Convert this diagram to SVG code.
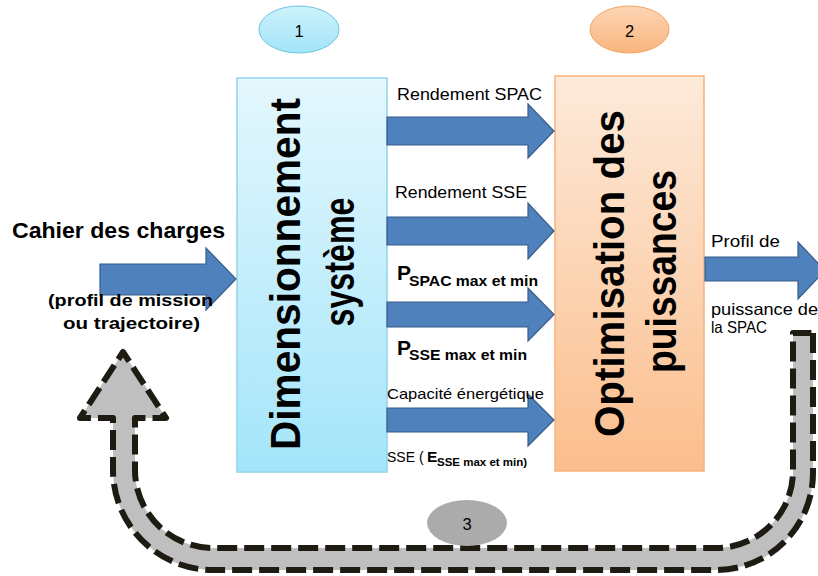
<svg xmlns="http://www.w3.org/2000/svg" width="818" height="576" viewBox="0 0 818 576">
  <defs>
    <linearGradient id="gBlue" x1="0" y1="0" x2="0" y2="1">
      <stop offset="0" stop-color="#E4F7FD"/>
      <stop offset="1" stop-color="#A4E5FA"/>
    </linearGradient>
    <linearGradient id="gOrange" x1="0" y1="0" x2="0" y2="1">
      <stop offset="0" stop-color="#FDEADA"/>
      <stop offset="1" stop-color="#FBBE8D"/>
    </linearGradient>
    <linearGradient id="gEllBlue" x1="0" y1="0" x2="0" y2="1">
      <stop offset="0" stop-color="#CDF2FC"/>
      <stop offset="1" stop-color="#A3E4F8"/>
    </linearGradient>
    <linearGradient id="gEllOrange" x1="0" y1="0" x2="0" y2="1">
      <stop offset="0" stop-color="#FDD6B6"/>
      <stop offset="1" stop-color="#F9B47D"/>
    </linearGradient>
  </defs>
  <style>
    text { font-family: "Liberation Sans", Arial, sans-serif; fill: #000; }
    .big { font-size: 42px; font-weight: bold; }
    .lbl { font-size: 16.5px; }
    .bold { font-weight: bold; }
    .num { font-size: 16.5px; text-anchor: middle; }
    .arrow { fill: #4F81BD; stroke: #385D8A; stroke-width: 1.2; }
    .loop { fill: #BFBFBF; stroke: #1E1B12; stroke-width: 6; stroke-dasharray: 20 7; stroke-linejoin: round; }
  </style>
  <rect width="818" height="576" fill="#FFFFFF"/>

  <g id="node-1-label">
    <ellipse cx="299" cy="29.5" rx="40" ry="23.5" fill="url(#gEllBlue)" stroke="#6CC4DF" stroke-width="1"/>
    <text class="num" x="299" y="37">1</text>
  </g>
  <g id="node-2-label">
    <ellipse cx="629.5" cy="29.5" rx="39.5" ry="23.5" fill="url(#gEllOrange)" stroke="#F2A35E" stroke-width="1"/>
    <text class="num" x="629.5" y="37">2</text>
  </g>

  <g id="node-dimensionnement">
    <rect x="237" y="78" width="150" height="394" fill="url(#gBlue)" stroke="#92D4EA" stroke-width="1.5"/>
    <text class="big" transform="translate(300,274) rotate(-90)" text-anchor="middle" textLength="352" lengthAdjust="spacingAndGlyphs">Dimensionnement</text>
    <text class="big" transform="translate(354,262) rotate(-90)" text-anchor="middle" textLength="129" lengthAdjust="spacingAndGlyphs">système</text>
  </g>

  <g id="node-optimisation">
    <rect x="555" y="76" width="149" height="395" fill="url(#gOrange)" stroke="#F9B27A" stroke-width="1.5"/>
    <text class="big" transform="translate(624,273.5) rotate(-90)" text-anchor="middle" textLength="327" lengthAdjust="spacingAndGlyphs">Optimisation des</text>
    <text class="big" transform="translate(676,271.5) rotate(-90)" text-anchor="middle" textLength="203" lengthAdjust="spacingAndGlyphs">puissances</text>
  </g>

  <g id="connectors">
    <path class="arrow" d="M100,264 H206 V248 L236,279 L206,310 V295 H100 Z"/>
    <path class="arrow" d="M387,117 H528 V104 L554,131 L528,158 V145 H387 Z"/>
    <path class="arrow" d="M387,217 H528 V203 L554,231 L528,259 V245 H387 Z"/>
    <path class="arrow" d="M387,302 H528 V288 L554,314.5 L528,341 V327 H387 Z"/>
    <path class="arrow" d="M387,408 H528 V394 L554,420 L528,446 V432 H387 Z"/>
    <path class="arrow" d="M705,257 H798 V242 L825,270.5 L798,299 V281 H705 Z"/>
    <path id="feedback-loop" class="loop" d="M813,333 V473 A97,97 0 0 1 716,570 H213 A100,100 0 0 1 113,470 V418 H80 L123,352 L166,418 H135 V470 A78,78 0 0 0 213,548 H716 A77,77 0 0 0 793,473 V333 Z"/>
  </g>

  <g id="node-3-label">
    <ellipse cx="467" cy="523" rx="40" ry="23" fill="#ABABAB"/>
    <text class="num" x="467" y="530">3</text>
  </g>

  <g id="input-label">
    <text class="bold" x="12" y="238" font-size="22" textLength="213" lengthAdjust="spacingAndGlyphs">Cahier des charges</text>
    <text class="bold" x="48" y="306" font-size="17" textLength="165" lengthAdjust="spacingAndGlyphs">(profil de mission</text>
    <text class="bold" x="63" y="329" font-size="17" textLength="137" lengthAdjust="spacingAndGlyphs">ou trajectoire)</text>
  </g>

  <g id="link-labels">
    <text class="lbl" x="397" y="100" textLength="145" lengthAdjust="spacingAndGlyphs">Rendement SPAC</text>
    <text class="lbl" x="395" y="198" textLength="132" lengthAdjust="spacingAndGlyphs">Rendement SSE</text>
    <text class="bold" x="397" y="280" font-size="21">P</text>
    <text class="bold" x="409" y="286" font-size="14" textLength="129" lengthAdjust="spacingAndGlyphs">SPAC max et min</text>
    <text class="bold" x="397" y="355" font-size="21">P</text>
    <text class="bold" x="409" y="360" font-size="14" textLength="118" lengthAdjust="spacingAndGlyphs">SSE max et min</text>
    <text x="387" y="399" font-size="14.5" textLength="157" lengthAdjust="spacingAndGlyphs">Capacité énergétique</text>
    <text x="387" y="462" font-size="14">SSE (<tspan x="427" font-weight="bold" font-size="15.5">E</tspan><tspan x="437" dy="4" font-weight="bold" font-size="11.5">SSE max et min)</tspan></text>
  </g>

  <g id="output-label">
    <text class="lbl" x="711" y="247" textLength="69" lengthAdjust="spacingAndGlyphs">Profil de</text>
    <text class="lbl" x="711" y="315" textLength="107" lengthAdjust="spacingAndGlyphs">puissance de</text>
    <text class="lbl" x="711" y="333" textLength="56" lengthAdjust="spacingAndGlyphs">la SPAC</text>
  </g>
</svg>
